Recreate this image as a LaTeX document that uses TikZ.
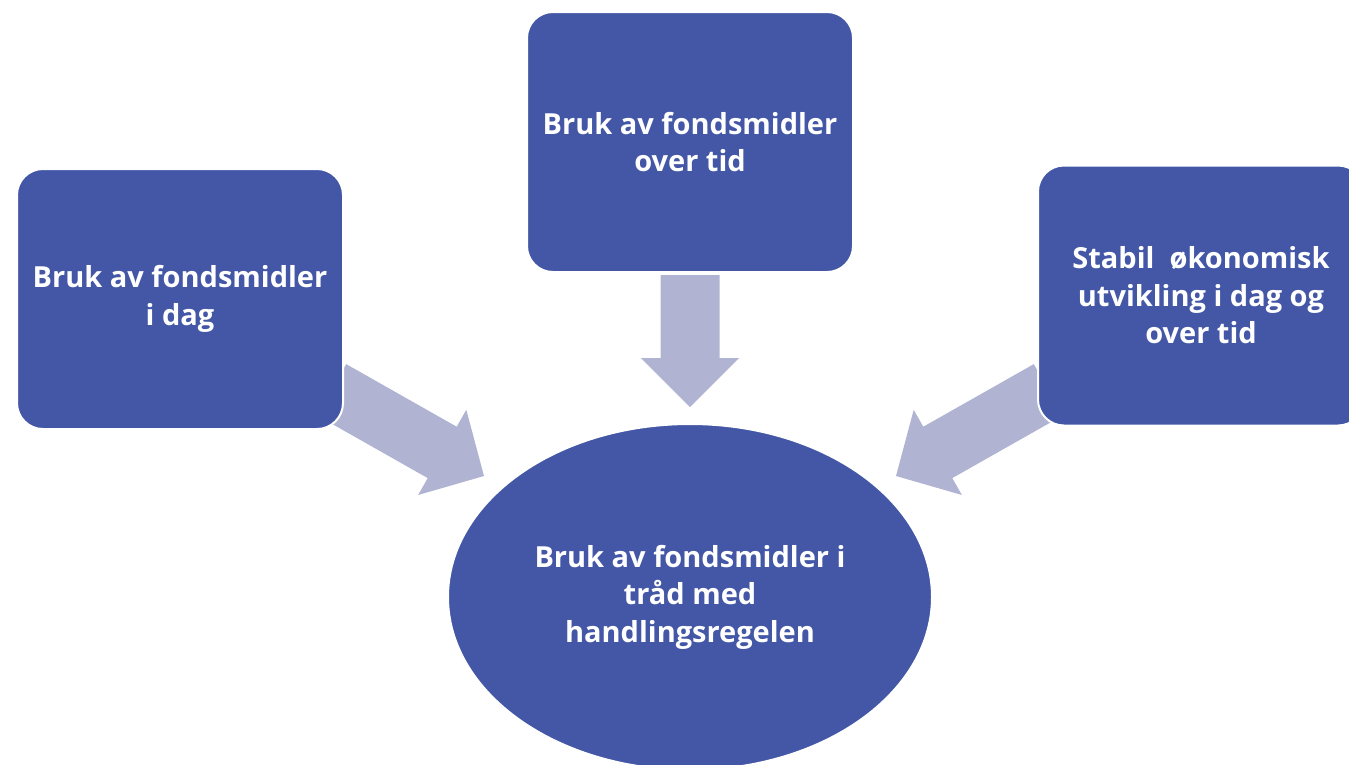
\documentclass[tikz,border=0pt]{standalone}
\usepackage{fontspec}
\setmainfont{Open Sans}
\usetikzlibrary{shapes.geometric}
\definecolor{boxblue}{HTML}{4357A6}
\definecolor{arrowgray}{HTML}{B0B4D2}
\pgfdeclarelayer{background}
\pgfsetlayers{background,main}
\tikzset{
  blocktext/.style={text=white, align=center, font=\bfseries\fontsize{29}{37.5}\selectfont},
  bluebox/.style={blocktext, fill=boxblue, draw=white, line width=2pt, rounded corners=26pt,
    minimum width=326pt, minimum height=260pt, inner sep=0pt},
  blueoval/.style={blocktext, ellipse, fill=boxblue, draw=white, line width=2pt,
    minimum width=484pt, minimum height=346pt, inner sep=0pt},
  blockarrow/.style={fill=arrowgray, draw=none}
}
\begin{document}
\begin{tikzpicture}[x=1pt,y=-1pt]
\useasboundingbox (0,0) rectangle (1349,764);
\clip (0,0) rectangle (1349,764);
\node[bluebox] (left) at (180,299) {Bruk av fondsmidler\\i dag};
\node[bluebox] (top) at (690,142) {Bruk av fondsmidler\\over tid};
\node[bluebox] (right) at (1201,295.5) {Stabil~ økonomisk\\utvikling i dag og\\over tid};
\node[blueoval] (goal) at (690,597) {Bruk av fondsmidler i\\tråd med\\handlingsregelen};
\begin{pgfonlayer}{background}
\coordinate (tipL) at (484,476);
\coordinate (tipT) at (690,407);
\coordinate (tipR) at (896,476);
\fill[blockarrow] (tipL) -- (466.3,409.8) -- (456.7,426.7) -- (346.2,364.1) -- (317.2,415.5)
  -- (427.7,478.1) -- (418.1,495.0) -- cycle;
\fill[blockarrow] (tipT) -- (641,358) -- (660.5,358) -- (660.5,275) -- (719.5,275)
  -- (719.5,358) -- (739,358) -- cycle;
\fill[blockarrow] (tipR) -- (913.7,409.8) -- (923.3,426.7) -- (1033.8,364.1) -- (1062.8,415.5)
  -- (952.3,478.1) -- (961.9,495.0) -- cycle;
\end{pgfonlayer}
\end{tikzpicture}
\end{document}
